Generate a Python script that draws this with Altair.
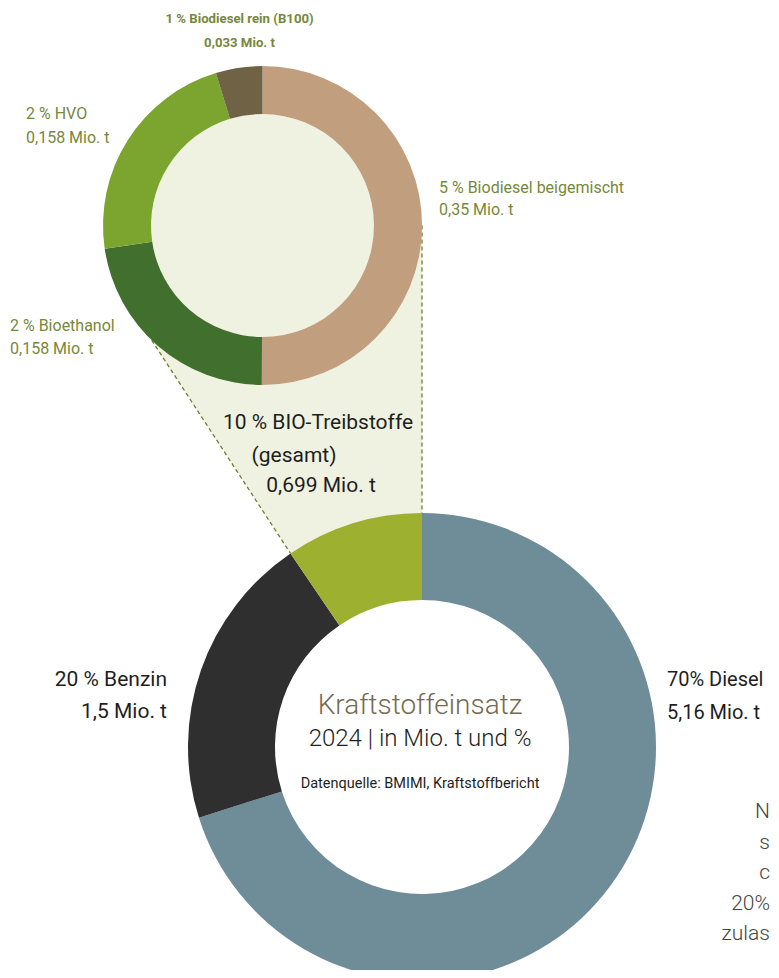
import math
import altair as alt
import pandas as pd

# ---------------- data ----------------
bio_categories = ["Biodiesel beigemischt", "Bioethanol", "HVO", "Biodiesel rein (B100)"]
bio_values = [0.35, 0.158, 0.158, 0.033]
bio_pct = [5, 2, 2, 1]
bio_colors = ["#c19e7e", "#416f2d", "#7ba52e", "#706345"]

fuel_categories = ["Diesel", "Benzin", "BIO-Treibstoffe"]
fuel_values = [5.16, 1.5, 0.699]
fuel_pct = [70, 20, 10]
fuel_pct_sep = ["", " ", " "]
fuel_colors = ["#6f8c99", "#2f2f2f", "#9db030"]

title_lines = ["Kraftstoffeinsatz", "2024 | in Mio. t und %", "Datenquelle: BMIMI, Kraftstoffbericht"]
side_note = ["N", "s", "c", "20%", "zulas"]

# ---------------- layout ----------------
OFF = 8
W, H = 763, 962
xs = alt.Scale(domain=[OFF, OFF + W], range=[0, W], nice=False, zero=False)
ys = alt.Scale(domain=[OFF, OFF + H], range=[0, H], nice=False, zero=False)

TOP_C = (262.5, 225.5)
R1, r1 = 159.5, 111.5
BOT_C = (422.0, 747.0)
R2, r2 = 234.0, 147.0
TOP_LEFT_ANGLE = 224.0

OLIVE = "#76883a"
BLACK = "#1e1e1e"
FILL = "#eff2e0"
DASH = "#6d7f28"


def fmt(v):
    return f"{v:g}".replace(".", ",")


def pt(center, r, deg):
    a = math.radians(deg)
    return (center[0] + r * math.sin(a), center[1] - r * math.cos(a))


total = sum(fuel_values)
bio_start = 360.0 * (total - fuel_values[-1]) / total
p_bl = pt(BOT_C, R2, bio_start)
p_br = pt(BOT_C, R2, 0)
p_tr = pt(TOP_C, R1, 90)
p_tl = pt(TOP_C, R1, TOP_LEFT_ANGLE)


def top_line_y(x):
    return p_tl[1] + (x - p_tl[0]) / (p_tr[0] - p_tl[0]) * (p_tr[1] - p_tl[1])


area_df = pd.DataFrame({
    "x": [p_tl[0], p_bl[0], p_br[0]],
    "y": [p_tl[1], top_line_y(p_bl[0]), p_tr[1]],
    "y2": [p_tl[1], p_bl[1], p_br[1]],
})
area = alt.Chart(area_df).mark_area(color=FILL, orient="vertical", opacity=1).encode(
    x=alt.X("x:Q", scale=xs, axis=None),
    y=alt.Y("y:Q", scale=ys, axis=None),
    y2="y2:Q",
)

lines_df = pd.DataFrame({
    "seg": ["l", "l", "r", "r"],
    "ord": [0, 1, 0, 1],
    "x": [p_tl[0], p_bl[0], p_tr[0], p_br[0]],
    "y": [p_tl[1], p_bl[1], p_tr[1], p_br[1]],
})
dashes = alt.Chart(lines_df).mark_line(color=DASH, strokeDash=[4, 3], strokeWidth=1.3).encode(
    x=alt.X("x:Q", scale=xs, axis=None),
    y=alt.Y("y:Q", scale=ys, axis=None),
    detail="seg:N",
    order="ord:Q",
)

disk = alt.Chart(pd.DataFrame({"v": [sum(bio_values)]})).mark_arc(
    outerRadius=r1 + 1, innerRadius=0, color=FILL
).encode(theta=alt.Theta("v:Q"), x=alt.value(TOP_C[0] - OFF), y=alt.value(TOP_C[1] - OFF))

top_df = pd.DataFrame({"cat": bio_categories, "value": bio_values, "idx": list(range(len(bio_values)))})
top = alt.Chart(top_df).mark_arc(outerRadius=R1, innerRadius=r1).encode(
    theta=alt.Theta("value:Q", stack=True),
    order=alt.Order("idx:Q"),
    color=alt.Color("cat:N", scale=alt.Scale(domain=bio_categories, range=bio_colors), legend=None),
    x=alt.value(TOP_C[0] - OFF),
    y=alt.value(TOP_C[1] - OFF),
)

bot_df = pd.DataFrame({"cat": fuel_categories, "value": fuel_values, "idx": list(range(len(fuel_values)))})
bottom = alt.Chart(bot_df).mark_arc(outerRadius=R2, innerRadius=r2).encode(
    theta=alt.Theta("value:Q", stack=True),
    order=alt.Order("idx:Q"),
    color=alt.Color("cat:N", scale=alt.Scale(domain=fuel_categories, range=fuel_colors), legend=None),
    x=alt.value(BOT_C[0] - OFF),
    y=alt.value(BOT_C[1] - OFF),
)


def text_layer(rows, align, font, size, color, weight="normal", baseline="middle"):
    df = pd.DataFrame(rows, columns=["text", "x", "y"])
    return alt.Chart(df).mark_text(
        align=align, baseline=baseline, font=font, fontSize=size, fontWeight=weight, color=color
    ).encode(
        x=alt.X("x:Q", scale=xs, axis=None),
        y=alt.Y("y:Q", scale=ys, axis=None),
        text="text:N",
    )


def bio_lines(i):
    return [f"{bio_pct[i]} % {bio_categories[i]}", f"{fmt(bio_values[i])} Mio. t"]


def fuel_lines(i):
    return [f"{fuel_pct[i]}{fuel_pct_sep[i]}% {fuel_categories[i]}", f"{fmt(fuel_values[i])} Mio. t"]


olive_left = []
for i, (x, y1, y2) in zip([0, 1, 2], [(439, 187.5, 209.5), (10, 325.5, 349), (26, 114, 137.5)]):
    a, b = bio_lines(i)
    olive_left += [(a, x, y1), (b, x, y2)]
b100 = bio_lines(3)
olive_center = [(b100[0], 239.5, 19.3), (b100[1], 239.5, 42.7)]

bio_t = fuel_lines(2)
black_center = [(bio_t[0], 318, 423), ("(gesamt)", 294, 455.5), (bio_t[1], 321, 486)]
benz = fuel_lines(1)
black_right = [(benz[0], 167, 680), (benz[1], 167, 712)]
dies = fuel_lines(0)
black_left = [(dies[0], 667, 679.5), (dies[1], 667, 712.5)]

note_y = [818, 848.5, 879, 909.5, 940]
note_x = [770, 770, 770, 770, 770]
note_rows = [(t, x, y) for t, x, y in zip(side_note, note_x, note_y)]

texts = [
    text_layer(olive_left, "left", "Roboto", 16, OLIVE),
    text_layer(olive_center, "center", "Roboto", 13.2, OLIVE, "bold"),
    text_layer(black_center, "center", "Roboto", 21, BLACK),
    text_layer(black_right, "right", "Roboto", 21, BLACK),
    text_layer(black_left, "left", "Roboto", 20, BLACK),
    text_layer([(title_lines[0], 420, 706)], "center", "Roboto", 28, "#766a4e", 300),
    text_layer([(title_lines[1], 420, 738.5)], "center", "Roboto", 24, BLACK, 300),
    text_layer([(title_lines[2], 420, 783.5)], "center", "Roboto", 14.5, BLACK),
    text_layer(note_rows, "right", "Roboto", 21, "#444444", 300, "alphabetic"),
]

chart = alt.layer(area, dashes, disk, top, bottom, *texts).resolve_scale(
    theta="independent", color="independent"
).properties(
    width=W, height=H, padding=0, autosize=alt.AutoSizeParams(type="none")
).configure_view(stroke=None)

chart.save("out.html", embed_options={"renderer": "svg", "actions": False})
